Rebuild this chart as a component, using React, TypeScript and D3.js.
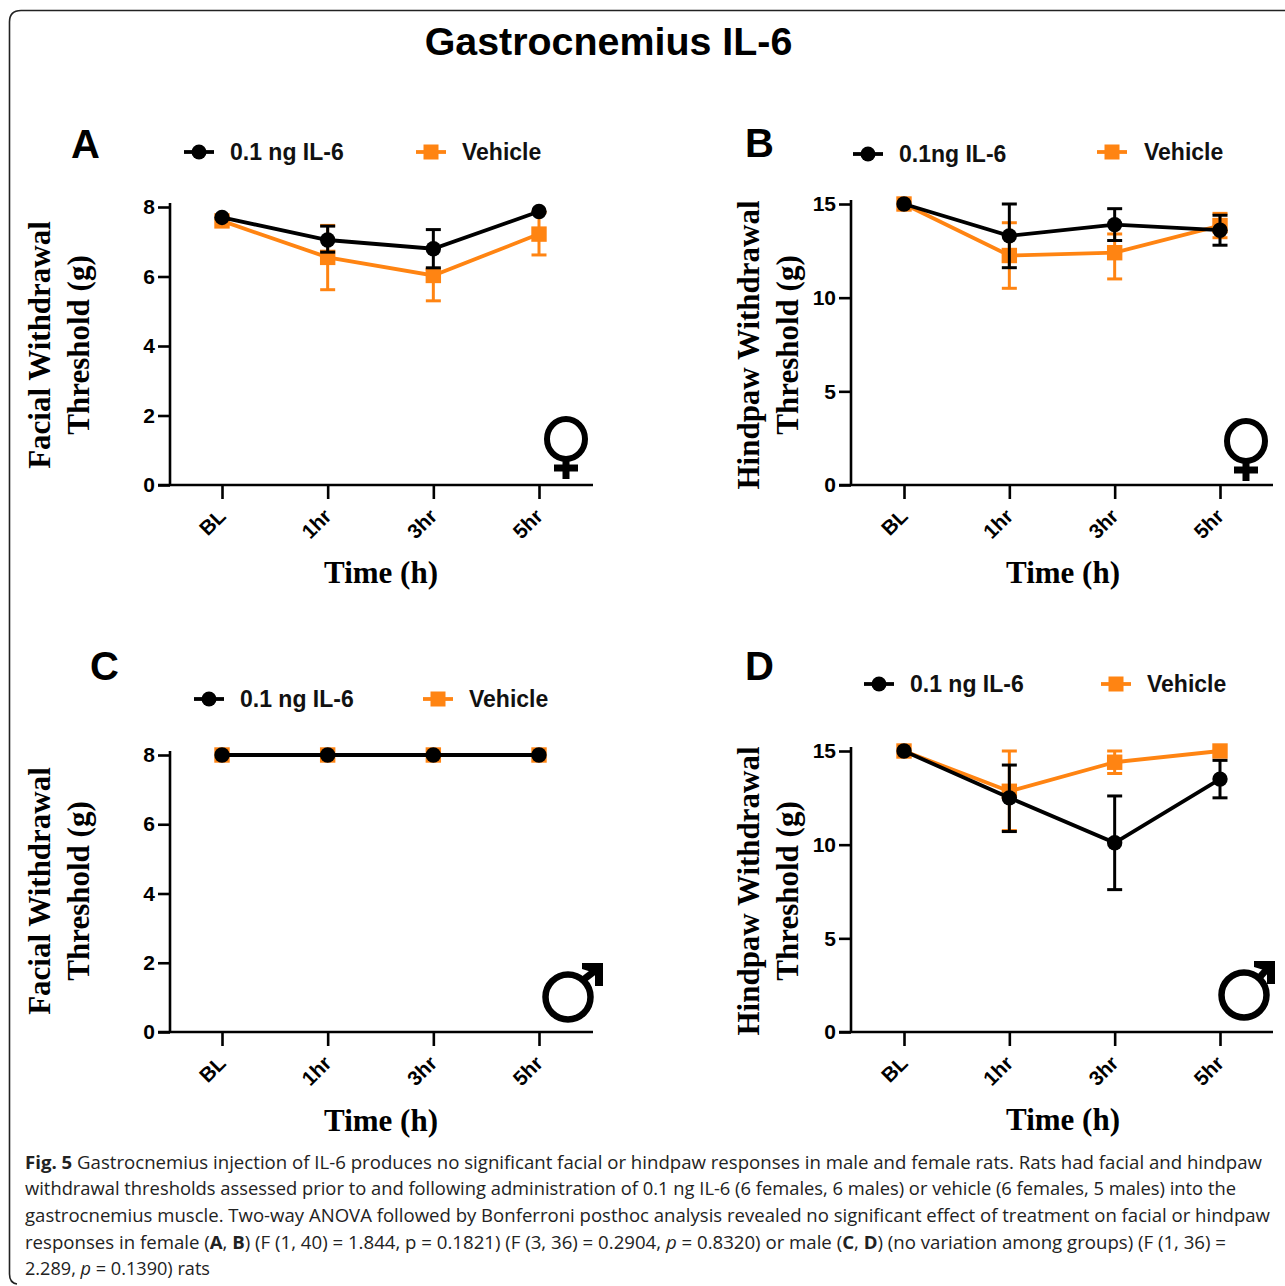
import React, { useEffect, useRef } from "react";
import * as d3 from "d3";

const timeLabels = ["BL", "1hr", "3hr", "5hr"];
const ORANGE = "#ff8412";
const SANS = "'Liberation Sans', Arial, sans-serif";
const SERIF = "'Liberation Serif', 'Times New Roman', serif";

// Panel A
const aDrug = [7.7, 7.05, 6.8, 7.87];
const aDrugLow = [7.7, 6.7, 6.25, 7.87];
const aDrugHigh = [7.7, 7.45, 7.35, 7.87];
const aVehicle = [7.6, 6.55, 6.03, 7.22];
const aVehicleLow = [7.6, 5.62, 5.3, 6.62];
const aVehicleHigh = [7.6, 7.47, 6.2, 7.85];

// Panel B
const bDrug = [15, 13.3, 13.9, 13.6];
const bDrugLow = [15, 11.6, 13.05, 12.8];
const bDrugHigh = [15, 15, 14.75, 14.4];
const bVehicle = [15, 12.25, 12.4, 13.85];
const bVehicleLow = [15, 10.5, 11, 13.2];
const bVehicleHigh = [15, 14, 13.4, 14.5];

// Panel C
const cDrug = [8, 8, 8, 8];
const cVehicle = [8, 8, 8, 8];

// Panel D
const dDrug = [15, 12.5, 10.1, 13.5];
const dDrugLow = [15, 10.7, 7.6, 12.5];
const dDrugHigh = [15, 14.25, 12.6, 14.5];
const dVehicle = [15, 12.85, 14.4, 15];
const dVehicleLow = [15, 10.75, 13.8, 15];
const dVehicleHigh = [15, 15, 15, 15];

const panels = [
  {
    letter: "A", lx: 71, ly: 158, left: 170, top: 207, bottom: 485, right: 593, max: 8, step: 2,
    first: 222, last: 539, drugName: "0.1 ng IL-6", drug: aDrug, drugLow: aDrugLow, drugHigh: aDrugHigh,
    vehicle: aVehicle, vehicleLow: aVehicleLow, vehicleHigh: aVehicleHigh,
    legDrug: [199, 152], legDrugText: 230, legVeh: [431, 152], legVehText: 462,
    yTitle: "Facial Withdrawal", titleX: 50, titleX2: 89, titleY: 345, timeX: 381, timeY: 583, sex: "f", sx: 566, sy: 439, ax: 0,
  },
  {
    letter: "B", lx: 745, ly: 157, left: 851, top: 204, bottom: 485, right: 1273, max: 15, step: 5,
    first: 904, last: 1220, drugName: "0.1ng IL-6", drug: bDrug, drugLow: bDrugLow, drugHigh: bDrugHigh,
    vehicle: bVehicle, vehicleLow: bVehicleLow, vehicleHigh: bVehicleHigh,
    legDrug: [868, 154], legDrugText: 899, legVeh: [1112, 152], legVehText: 1144,
    yTitle: "Hindpaw Withdrawal", titleX: 759, titleX2: 798, titleY: 345, timeX: 1063, timeY: 583, sex: "f", sx: 1246, sy: 441, ax: 0,
  },
  {
    letter: "C", lx: 90, ly: 680, left: 170, top: 755, bottom: 1032, right: 593, max: 8, step: 2,
    first: 222, last: 539, drugName: "0.1 ng IL-6", drug: cDrug, drugLow: cDrug, drugHigh: cDrug,
    vehicle: cVehicle, vehicleLow: cVehicle, vehicleHigh: cVehicle,
    legDrug: [209, 699], legDrugText: 240, legVeh: [438, 699], legVehText: 469,
    yTitle: "Facial Withdrawal", titleX: 50, titleX2: 89, titleY: 891, timeX: 381, timeY: 1131, sex: "m", sx: 568, sy: 997, ax: 0,
  },
  {
    letter: "D", lx: 745, ly: 680, left: 851, top: 751, bottom: 1032, right: 1273, max: 15, step: 5,
    first: 904, last: 1220, drugName: "0.1 ng IL-6", drug: dDrug, drugLow: dDrugLow, drugHigh: dDrugHigh,
    vehicle: dVehicle, vehicleLow: dVehicleLow, vehicleHigh: dVehicleHigh,
    legDrug: [879, 684], legDrugText: 910, legVeh: [1116, 684], legVehText: 1147,
    yTitle: "Hindpaw Withdrawal", titleX: 759, titleX2: 798, titleY: 891, timeX: 1063, timeY: 1130, sex: "m", sx: 1244, sy: 995, ax: -4,
  },
];

const captionLines = [
  { y: 1169, width: 1237, parts: [["b", "Fig. 5"], ["", " Gastrocnemius injection of IL-6 produces no significant facial or hindpaw responses in male and female rats. Rats had facial and hindpaw"]] },
  { y: 1195, width: 1211, parts: [["", "withdrawal thresholds assessed prior to and following administration of 0.1 ng IL-6 (6 females, 6 males) or vehicle (6 females, 5 males) into the"]] },
  { y: 1222, width: 1245, parts: [["", "gastrocnemius muscle. Two-way ANOVA followed by Bonferroni posthoc analysis revealed no significant effect of treatment on facial or hindpaw"]] },
  { y: 1249, width: 1201, parts: [["", "responses in female ("], ["b", "A"], ["", ", "], ["b", "B"], ["", ") (F (1, 40) = 1.844, p = 0.1821) (F (3, 36) = 0.2904, "], ["i", "p"], ["", " = 0.8320) or male ("], ["b", "C"], ["", ", "], ["b", "D"], ["", ") (no variation among groups) (F (1, 36) ="]] },
  { y: 1275, width: 185, parts: [["", "2.289, "], ["i", "p"], ["", " = 0.1390) rats"]] },
];

const App: React.FC = () => {
  const svgRef = useRef<SVGSVGElement>(null);

  useEffect(() => {
    if (!svgRef.current) return;
    const svg = d3.select(svgRef.current);
    svg.selectAll("*").remove();

    // Frame round the figure, open on the right
    svg
      .append("path")
      .attr("d", "M1285,10.5H21Q9.5,10.5 9.5,22V1274Q9.5,1283 17,1284")
      .attr("fill", "none")
      .attr("stroke", "#222")
      .attr("stroke-width", 1.6);

    svg
      .append("text")
      .attr("x", 608.5)
      .attr("y", 55)
      .attr("text-anchor", "middle")
      .attr("font-family", SANS)
      .attr("font-weight", 700)
      .attr("font-size", 39.4)
      .text("Gastrocnemius IL-6");

    panels.forEach((p) => {
      const g = svg.append("g");
      const x = d3.scalePoint<string>().domain(timeLabels).range([p.first, p.last]);
      const y = d3.scaleLinear().domain([0, p.max]).range([p.bottom, p.top]);

      g.append("text")
        .attr("x", p.lx)
        .attr("y", p.ly)
        .attr("font-family", SANS)
        .attr("font-weight", 700)
        .attr("font-size", 40)
        .text(p.letter);

      // Axes
      const yAxis = d3
        .axisLeft(y)
        .tickValues(d3.range(0, p.max + 1, p.step))
        .tickSize(12)
        .tickPadding(3)
        .tickFormat((d: any) => String(d));
      const yG = g
        .append("g")
        .attr("transform", `translate(${p.left},0)`)
        .call(yAxis)
        .call((s) => s.select(".domain").remove());
      yG.selectAll(".tick line").attr("stroke", "#000").attr("stroke-width", 2.6);
      yG.selectAll("text")
        .attr("font-family", SANS)
        .attr("font-weight", 700)
        .attr("font-size", 21)
        .attr("fill", "#000");
      g.append("line")
        .attr("x1", p.left)
        .attr("x2", p.left)
        .attr("y1", p.top - 4)
        .attr("y2", p.bottom)
        .attr("stroke", "#000")
        .attr("stroke-width", 2.6);

      const xAxis = d3.axisBottom(x).tickSize(14).tickPadding(12);
      const xG = g
        .append("g")
        .attr("transform", `translate(0,${p.bottom})`)
        .call(xAxis)
        .call((s) => s.select(".domain").remove());
      xG.selectAll(".tick line").attr("stroke", "#000").attr("stroke-width", 2.6);
      xG.selectAll("text")
        .attr("font-family", SANS)
        .attr("font-weight", 700)
        .attr("font-size", 20.5)
        .attr("fill", "#000")
        .attr("text-anchor", "end")
        .attr("dy", "0.7em")
        .attr("transform", "translate(-24,4) rotate(-45)");
      g.append("line")
        .attr("x1", p.left - 12)
        .attr("x2", p.right)
        .attr("y1", p.bottom)
        .attr("y2", p.bottom)
        .attr("stroke", "#000")
        .attr("stroke-width", 2.6);

      // Axis titles
      [
        [p.yTitle, p.titleX],
        ["Threshold (g)", p.titleX2],
      ].forEach(([label, tx]) => {
        g.append("text")
          .attr("transform", `translate(${tx},${p.titleY}) rotate(-90)`)
          .attr("text-anchor", "middle")
          .attr("font-family", SERIF)
          .attr("font-weight", 700)
          .attr("font-size", 31)
          .text(label as string);
      });
      g.append("text")
        .attr("x", p.timeX)
        .attr("y", p.timeY)
        .attr("text-anchor", "middle")
        .attr("font-family", SERIF)
        .attr("font-weight", 700)
        .attr("font-size", 31)
        .text("Time (h)");

      const line = d3
        .line<number>()
        .x((_, i) => x(timeLabels[i]) as number)
        .y((d) => y(d));

      const drawSeries = (
        values: number[],
        low: number[],
        high: number[],
        color: string,
        kind: "circle" | "square"
      ) => {
        const s = g.append("g");
        values.forEach((_, i) => {
          if (low[i] === high[i]) return;
          const cx = x(timeLabels[i]) as number;
          s.append("line")
            .attr("x1", cx)
            .attr("x2", cx)
            .attr("y1", y(low[i]))
            .attr("y2", y(high[i]))
            .attr("stroke", color)
            .attr("stroke-width", 3);
          [low[i], high[i]].forEach((v) => {
            s.append("line")
              .attr("x1", cx - 7.5)
              .attr("x2", cx + 7.5)
              .attr("y1", y(v))
              .attr("y2", y(v))
              .attr("stroke", color)
              .attr("stroke-width", 3);
          });
        });
        s.append("path")
          .attr("d", line(values))
          .attr("fill", "none")
          .attr("stroke", color)
          .attr("stroke-width", 3.8);
        values.forEach((v, i) => {
          const cx = x(timeLabels[i]) as number;
          if (kind === "circle") {
            s.append("circle").attr("cx", cx).attr("cy", y(v)).attr("r", 7.7).attr("fill", color);
          } else {
            s.append("rect")
              .attr("x", cx - 7.7)
              .attr("y", y(v) - 7.7)
              .attr("width", 15.4)
              .attr("height", 15.4)
              .attr("fill", color);
          }
        });
      };

      drawSeries(p.vehicle, p.vehicleLow, p.vehicleHigh, ORANGE, "square");
      drawSeries(p.drug, p.drugLow, p.drugHigh, "#000", "circle");

      // Legend
      const legendEntry = (
        cx: number,
        cy: number,
        textX: number,
        label: string,
        color: string,
        kind: "circle" | "square"
      ) => {
        g.append("line")
          .attr("x1", cx - 15)
          .attr("x2", cx + 15)
          .attr("y1", cy)
          .attr("y2", cy)
          .attr("stroke", color)
          .attr("stroke-width", 3.8);
        if (kind === "circle") {
          g.append("circle").attr("cx", cx).attr("cy", cy).attr("r", 7.5).attr("fill", color);
        } else {
          g.append("rect")
            .attr("x", cx - 7.5)
            .attr("y", cy - 7.5)
            .attr("width", 15)
            .attr("height", 15)
            .attr("fill", color);
        }
        g.append("text")
          .attr("x", textX)
          .attr("y", cy + 8)
          .attr("font-family", SANS)
          .attr("font-weight", 700)
          .attr("font-size", 23)
          .attr("fill", "#111")
          .text(label);
      };
      legendEntry(p.legDrug[0], p.legDrug[1], p.legDrugText, p.drugName, "#000", "circle");
      legendEntry(p.legVeh[0], p.legVeh[1], p.legVehText, "Vehicle", ORANGE, "square");

      // Sex symbol
      const sym = g
        .append("g")
        .attr("transform", `translate(${p.sx},${p.sy})`)
        .attr("fill", "none")
        .attr("stroke", "#000");
      if (p.sex === "f") {
        sym.append("ellipse").attr("rx", 19).attr("ry", 20).attr("stroke-width", 6);
        sym.append("path").attr("d", "M0,21V40").attr("stroke-width", 7);
        sym.append("path").attr("d", "M-12,29H12").attr("stroke-width", 7);
      } else {
        sym.append("circle").attr("r", 22.5).attr("stroke-width", 6.5);
        sym.append("path").attr("d", `M15,-17L${p.ax + 28},-27`).attr("stroke-width", 7);
        sym.append("path")
          .attr("d", `M${p.ax + 14},-34H${p.ax + 35}V-11H${p.ax + 27}V-24L${p.ax + 14},-28Z`)
          .attr("fill", "#000")
          .attr("stroke", "none");
      }
    });

    // Caption
    const cap = svg
      .append("g")
      .attr("font-family", "'Open Sans', 'Noto Sans', sans-serif")
      .attr("font-size", 18.5)
      .attr("fill", "#222");
    captionLines.forEach((l) => {
      const t = cap
        .append("text")
        .attr("x", 25)
        .attr("y", l.y)
        .attr("textLength", l.width)
        .attr("lengthAdjust", "spacingAndGlyphs")
        .style("white-space", "pre");
      l.parts.forEach(([kind, str]) => {
        t.append("tspan")
          .attr("font-weight", kind === "b" ? 700 : 400)
          .attr("font-style", kind === "i" ? "italic" : "normal")
          .text(str);
      });
    });
  }, []);

  return (
    <svg
      ref={svgRef}
      width={1285}
      height={1286}
      viewBox="0 0 1285 1286"
      style={{ position: "absolute", left: 0, top: 0, background: "#fff" }}
    />
  );
};

export default App;
